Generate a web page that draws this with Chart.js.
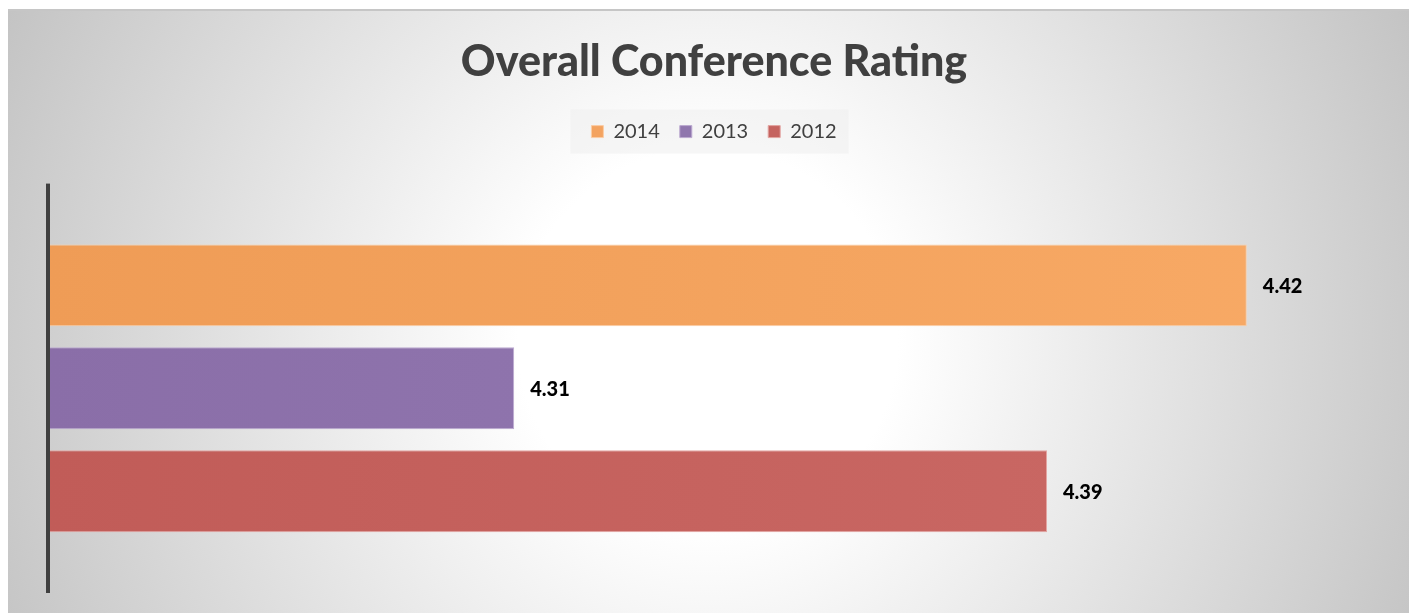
<!DOCTYPE html>
<html><head><meta charset="utf-8">
<script src="https://cdn.jsdelivr.net/npm/chart.js@4.4.1/dist/chart.umd.min.js"></script>
<style>
html,body{margin:0;padding:0;background:#fff;}
#panel{position:absolute;left:8px;top:9px;width:1401px;height:604px;
background:radial-gradient(circle at 700px 330px,#ffffff 0px,#ffffff 190px,#c0c0c0 810px);}
#topline{position:absolute;left:8px;top:9px;width:1401px;height:2px;background:#c6c6c6;}
</style></head><body>
<div id="panel"><canvas id="c"></canvas></div>
<div id="topline"></div>
<script>
const categories = [''];
const seriesLabels = ['2014', '2013', '2012'];
const values2014 = [4.42];
const values2013 = [4.31];
const values2012 = [4.39];
const axisMin = 4.24;
const axisMax = 4.44;
const chartTitle = 'Overall Conference Rating';

const solid = ['#F3A360', '#8F76AD', '#C5635F'];
const leftC = ['#EF9C56', '#8A6EA8', '#C15C58'];
const rightC = ['#F8AA66', '#967DB4', '#CB6A66'];
const edge = ['#FBCDA5', '#BBA9D0', '#E3A5A2'];

function grad(i) {
  return (ctx) => {
    const ch = ctx.chart, a = ch.chartArea;
    if (!a) return solid[i];
    const g = ch.ctx.createLinearGradient(a.left, 0, a.right, 0);
    g.addColorStop(0, leftC[i]);
    g.addColorStop(1, rightC[i]);
    return g;
  };
}

const seriesValues = [values2014, values2013, values2012];
const datasets = seriesLabels.map((lab, i) => ({
  label: lab,
  data: seriesValues[i],
  backgroundColor: grad(i),
  borderColor: edge[i],
  borderWidth: 1,
  borderSkipped: 'start',
  categoryPercentage: 0.754,
  barPercentage: 0.796
}));

const extras = {
  id: 'extras',
  beforeLayout(chart) {
    const lg = chart.legend;
    if (lg && !lg._patched) {
      const orig = lg.fit.bind(lg);
      lg.fit = function () { orig(); this.height += 32; };
      lg._patched = true;
    }
  },
  beforeDraw(chart) {
    const lg = chart.legend;
    if (!lg || !lg.legendHitBoxes || !lg.legendHitBoxes.length) return;
    const hb = lg.legendHitBoxes;
    const l = Math.min(...hb.map(h => h.left)) - 21;
    const r = Math.max(...hb.map(h => h.left + h.width)) + 12;
    const cy = hb[0].top + hb[0].height / 2;
    const c = chart.ctx;
    c.save();
    c.fillStyle = 'rgba(238,238,238,0.55)';
    c.fillRect(l, cy - 22, r - l, 44);
    c.restore();
  },
  afterDatasetsDraw(chart) {
    const c = chart.ctx, a = chart.chartArea;
    c.save();
    c.font = '900 20px Lato';
    c.fillStyle = '#000';
    c.textBaseline = 'middle';
    c.textAlign = 'left';
    chart.data.datasets.forEach((ds, i) => {
      const meta = chart.getDatasetMeta(i);
      meta.data.forEach((el, j) => {
        c.fillText(ds.data[j].toFixed(2), el.x + 16, el.y + 1);
      });
    });
    c.fillStyle = '#404040';
    c.fillRect(a.left - 2, a.top, 4, a.bottom - a.top);
    c.restore();
  }
};

new Chart(document.getElementById('c'), {
  type: 'bar',
  data: { labels: categories, datasets },
  options: {
    indexAxis: 'y',
    responsive: true,
    maintainAspectRatio: false,
    animation: false,
    layout: { padding: { left: 40, right: 29, top: 0, bottom: 20 } },
    scales: {
      x: { display: false, min: axisMin, max: axisMax },
      y: { display: false }
    },
    plugins: {
      tooltip: { enabled: false },
      title: {
        display: true,
        text: chartTitle,
        color: '#404040',
        font: { family: 'Lato', size: 43, weight: '900' },
        padding: { top: 27, bottom: 14 }
      },
      legend: {
        display: true,
        position: 'top',
        labels: {
          color: '#404040',
          font: { family: 'Lato', size: 20 },
          boxWidth: 12,
          boxHeight: 12,
          padding: 20,
          generateLabels(chart) {
            return chart.data.datasets.map((ds, i) => ({
              text: ds.label,
              fillStyle: solid[i],
              strokeStyle: edge[i],
              lineWidth: 1,
              hidden: false,
              datasetIndex: i,
              fontColor: '#404040'
            }));
          }
        }
      }
    }
  },
  plugins: [extras]
});
</script>
</body></html>
